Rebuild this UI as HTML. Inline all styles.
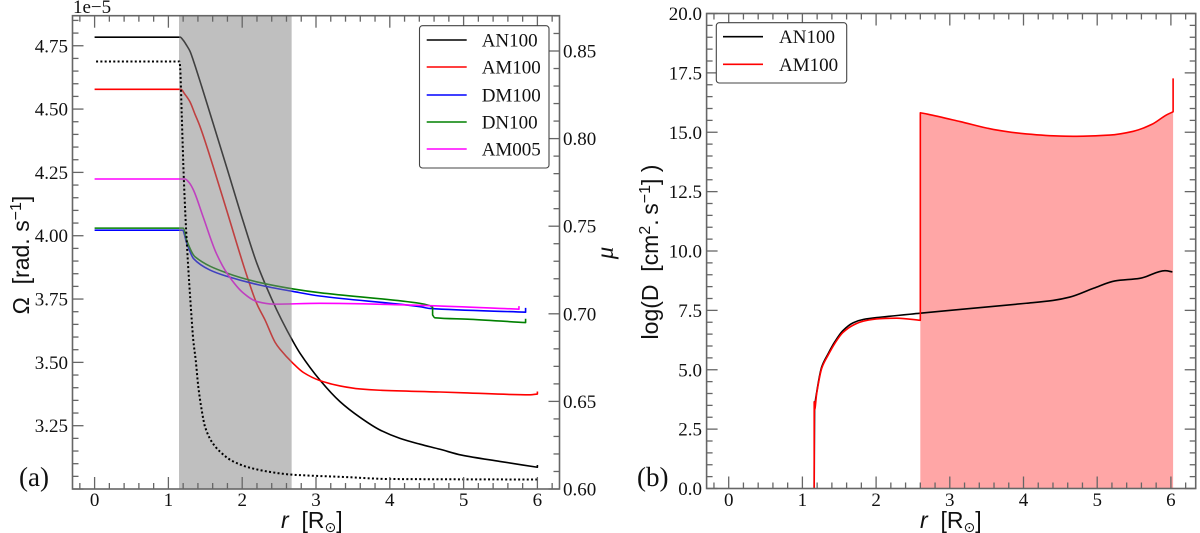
<!DOCTYPE html>
<html lang="en">
<head>
<meta charset="utf-8">
<title>Rotation profile and diffusion coefficient</title>
<style>
html,body{margin:0;padding:0;background:#fff;}
svg{display:block;}
.tk{font-family:"Liberation Serif",serif;font-size:19px;fill:#111;}
.lb{font-family:"Liberation Sans","DejaVu Sans",sans-serif;font-size:23px;fill:#111;}
</style>
</head>
<body>
<svg id="chart" width="1200" height="533" viewBox="0 0 1200 533" xmlns="http://www.w3.org/2000/svg"></svg>
<script>
// ---- Panel (a) data ----
const rAN100 = [0, 1.16, 1.2, 1.25, 1.29, 1.34, 1.45, 1.564, 1.79, 2.015, 2.2, 2.4, 2.535, 2.69, 2.784, 3.054, 3.325, 3.596, 3.867, 4.138, 4.41, 4.68, 4.97, 5.49, 6.0, 6.0];
const omegaAN100 = [4.784, 4.784, 4.772, 4.75, 4.73, 4.69, 4.59, 4.483, 4.27, 4.055, 3.89, 3.75, 3.667, 3.582, 3.536, 3.43, 3.345, 3.283, 3.233, 3.20, 3.177, 3.157, 3.134, 3.109, 3.086, 3.095];
const rAM100 = [0, 1.17, 1.22, 1.29, 1.36, 1.43, 1.61, 1.79, 2.06, 2.2, 2.31, 2.444, 2.51, 2.69, 2.83, 3.054, 3.325, 3.596, 3.867, 4.68, 5.0, 5.9, 6.0, 6.0];
const omegaAM100 = [4.578, 4.578, 4.56, 4.53, 4.48, 4.43, 4.27, 4.10, 3.845, 3.73, 3.667, 3.58, 3.553, 3.496, 3.46, 3.428, 3.407, 3.395, 3.39, 3.383, 3.38, 3.372, 3.375, 3.385];
const rDM100 = [0, 1.19, 1.25, 1.34, 1.56, 1.79, 2.24, 2.69, 3.05, 4.41, 4.54, 5.84, 5.84];
const omegaDM100 = [4.022, 4.022, 3.97, 3.91, 3.865, 3.84, 3.805, 3.78, 3.762, 3.72, 3.713, 3.698, 3.715];
const rDN100 = [0, 1.2, 1.25, 1.36, 1.79, 2.24, 2.69, 3.05, 4.41, 4.54, 4.58, 4.58, 4.61, 5.09, 5.84, 5.84];
const omegaDN100 = [4.03, 4.03, 3.98, 3.917, 3.853, 3.815, 3.79, 3.775, 3.733, 3.724, 3.718, 3.687, 3.676, 3.67, 3.657, 3.672];
const rAM005 = [0, 1.225, 1.28, 1.34, 1.47, 1.65, 1.81, 2.015, 2.2, 2.42, 3.05, 4.54, 5.75, 5.75];
const omegaAM005 = [4.224, 4.224, 4.21, 4.18, 4.075, 3.93, 3.845, 3.774, 3.74, 3.73, 3.733, 3.724, 3.71, 3.722];
const rMu = [0.02, 1.15, 1.16, 1.18, 1.21, 1.25, 1.316, 1.337, 1.37, 1.405, 1.451, 1.496, 1.587, 1.70, 1.857, 2.083, 2.354, 2.67, 3.41, 4.0, 6.0];
const muAN100 = [0.844, 0.844, 0.84, 0.8146, 0.776, 0.74, 0.6965, 0.685, 0.6736, 0.6584, 0.6451, 0.6356, 0.627, 0.6213, 0.6162, 0.6124, 0.6099, 0.6082, 0.6068, 0.6057, 0.6054];
const spanA = [1.144, 2.67];
const legendA = ["AN100", "AM100", "DM100", "DN100", "AM005"];
const xTicks = [0, 1, 2, 3, 4, 5, 6];
const omegaTicks = [3.25, 3.50, 3.75, 4.00, 4.25, 4.50, 4.75];
const muTicks = [0.60, 0.65, 0.70, 0.75, 0.80, 0.85];

// ---- Panel (b) data ----
const rDiffAM = [1.16, 1.16, 1.165, 1.194, 1.262, 1.35, 1.44, 1.547, 1.69, 1.83, 2.05, 2.28, 2.6, 2.6, 2.7, 3.14, 3.59, 4.04, 4.5, 4.72, 5.17, 5.49, 5.74, 5.94, 6.03, 6.03];
const logDAM = [0, 3.65, 3.3, 4.0, 5.06, 5.62, 6.11, 6.56, 6.88, 7.05, 7.15, 7.17, 7.08, 15.82, 15.76, 15.45, 15.12, 14.93, 14.84, 14.83, 14.88, 15.04, 15.33, 15.73, 15.86, 17.27];
const rDiffAN = [1.16, 1.165, 1.194, 1.262, 1.35, 1.44, 1.547, 1.69, 1.83, 2.05, 2.6, 3.14, 4.04, 4.4, 4.63, 4.95, 5.24, 5.58, 5.92, 6.02];
const logDAN = [0, 3.3, 4.05, 5.12, 5.68, 6.18, 6.64, 6.98, 7.12, 7.21, 7.38, 7.54, 7.8, 7.92, 8.06, 8.43, 8.74, 8.85, 9.17, 9.12];
const legendB = ["AN100", "AM100"];
const logDTicks = [0.0, 2.5, 5.0, 7.5, 10.0, 12.5, 15.0, 17.5, 20.0];

// ---- Axis functions ----
const ax = {l:72.5, r:559.5, t:15.7, b:489};
const bx = {l:706.6, r:1195.7, t:13.5, b:488.5};
const xA = v => 94.6 + v * 73.8;
const yOmega = v => 425.7 - (v - 3.25) * 253.3;
const yMu = v => 489 - (v - 0.60) * 1752;
const xB = v => 728.7 + v * 73.7;
const yD = v => 488.5 - v * 23.75;

const NS = "http://www.w3.org/2000/svg";
const svg = document.getElementById("chart");
function make(parent, tag, attrs, txt){
  const n = document.createElementNS(NS, tag);
  for (const k in attrs) n.setAttribute(k, attrs[k]);
  if (txt !== undefined) n.textContent = txt;
  parent.appendChild(n);
  return n;
}
// Shape-preserving curve through the data points; zero-width steps stay straight.
function curve(xs, ys, fx, fy){
  const X = xs.map(fx), Y = ys.map(fy), n = X.length;
  let d = "M" + X[0].toFixed(2) + " " + Y[0].toFixed(2);
  let s = 0;
  while (s < n - 1){
    let e = s;
    while (e < n - 1 && X[e+1] - X[e] > 0.01) e++;
    if (e === s){
      d += "L" + X[s+1].toFixed(2) + " " + Y[s+1].toFixed(2);
      s++;
      continue;
    }
    const m = [];
    for (let i = s; i < e; i++) m.push((Y[i+1]-Y[i])/(X[i+1]-X[i]));
    const t = [m[0]];
    for (let i = 1; i < m.length; i++){
      t.push(m[i-1]*m[i] <= 0 ? 0 : 2*m[i-1]*m[i]/(m[i-1]+m[i]));
    }
    t.push(m[m.length-1]);
    for (let i = s; i < e; i++){
      const h = (X[i+1]-X[i])/3, a = t[i-s], b = t[i-s+1];
      d += "C" + (X[i]+h).toFixed(2) + " " + (Y[i]+a*h).toFixed(2) + " " + (X[i+1]-h).toFixed(2) + " " + (Y[i+1]-b*h).toFixed(2) + " " + X[i+1].toFixed(2) + " " + Y[i+1].toFixed(2);
    }
    s = e;
  }
  return d;
}
function series(parent, xs, ys, fx, fy, color, name, extra){
  const el = make(parent, "path", Object.assign({d: curve(xs, ys, fx, fy), fill:"none", stroke:color, "stroke-width":1.6, "stroke-linejoin":"round"}, extra || {}));
  
  
  return el;
}
const AXC = "#666";
function tick(parent, x1, y1, x2, y2, name){
  const el = make(parent, "line", {x1, y1, x2, y2, stroke:AXC, "stroke-width":1.3});
  
  
}
function label(parent, x, y, anchor, txt, name){
  const el = make(parent, "text", {x, y, "text-anchor":anchor, class:"tk"}, txt);
  
  
  return el;
}
function frame(parent, b, name){
  const el = make(parent, "rect", {x:b.l, y:b.t, width:b.r-b.l, height:b.b-b.t, fill:"none", stroke:AXC, "stroke-width":1.6});
  
  
}
function xAxis(g, b, fx, minV, maxV){
  for (let i = Math.round(minV*5); i <= Math.round(maxV*5); i++){
    const v = i/5, px = fx(v);
    if (px < b.l || px > b.r) continue;
    const len = i % 5 === 0 ? 12 : 6;
    tick(g, px, b.b, px, b.b-len, "x-tick");
    tick(g, px, b.t, px, b.t+len, "x-tick-top");
  }
  xTicks.forEach(v => {
    label(g, fx(v), 506, "middle", String(v), "x-tick-label");
  });
}
function yAxisTicks(g, fy, lo, hi, step, every, xEdge, dir, name, top, bottom){
  const n = Math.round((hi-lo)/step);
  for (let i = 0; i <= n; i++){
    const py = fy(lo + i*step);
    if (py < top - 0.6 || py > bottom + 0.6) continue;
    tick(g, xEdge, py, xEdge + dir*(i % every === 0 ? 11 : 6), py, name);
  }
}
function legend(parent, x, y, w, h, names, colors, lineX, textX, rows, name){
  const g = make(parent, "g", {});
  
  
  make(g, "rect", {x, y, width:w, height:h, rx:3, fill:"#fff", stroke:"#444", "stroke-width":1.1});
  names.forEach((nm, i) => {
    const ln = make(g, "line", {x1:lineX, x2:lineX+40, y1:rows[i], y2:rows[i], stroke:colors[i], "stroke-width":1.6});
    
    
    const t = make(g, "text", {x:textX, y:rows[i]+6.5, class:"tk"}, nm);
    
    
  });
}

// ---- Panel (a) ----
const gA = make(svg, "g", {});


series(gA, rAN100, omegaAN100, xA, yOmega, "#000", "omega-an100");
series(gA, rAM100, omegaAM100, xA, yOmega, "#f00", "omega-am100");
series(gA, rDM100, omegaDM100, xA, yOmega, "#00f", "omega-dm100");
series(gA, rDN100, omegaDN100, xA, yOmega, "#008000", "omega-dn100");
series(gA, rAM005, omegaAM005, xA, yOmega, "#f0f", "omega-am005");
const span = make(gA, "rect", {x:xA(spanA[0]), y:ax.t, width:xA(spanA[1])-xA(spanA[0]), height:ax.b-ax.t, fill:"#808080", "fill-opacity":0.5});


series(gA, rMu, muAN100, xA, yMu, "#000", "mu-an100", {"stroke-dasharray":"2 2.3", "stroke-width":2});

xAxis(gA, ax, xA, -0.2, 6.2);
yAxisTicks(gA, yOmega, 3.0, 4.85, 0.05, 5, ax.l, 1, "omega-tick", ax.t, ax.b);
yAxisTicks(gA, yMu, 0.60, 0.87, 0.01, 5, ax.r, -1, "mu-tick", ax.t, ax.b);
omegaTicks.forEach(v => {
  label(gA, 68, yOmega(v)+6.5, "end", v.toFixed(2), "omega-tick-label");
});
muTicks.forEach(v => {
  label(gA, 563, yMu(v)+6.5, "start", v.toFixed(2), "mu-tick-label");
});
frame(gA, ax, "panel-a-frame");
legend(gA, 419.5, 25.7, 129.5, 142.3, legendA, ["#000","#f00","#00f","#008000","#f0f"], 426.7, 481.7, [40,67,95,122,149], "legend-a");
label(gA, 73, 13, "start", "1e\u22125", "offset-label");
const tagA = label(gA, 19, 486, "start", "(a)", "panel-a-tag");
tagA.setAttribute("style", "font-size:27px");
const muT = make(gA, "text", {transform:"translate(613,253) rotate(-90)", "text-anchor":"middle", class:"tk", style:"font-style:italic;font-size:25px"}, "\u03BC");


const omT = make(gA, "text", {transform:"translate(29,255) rotate(-90)", "text-anchor":"middle", class:"lb"});


omT.innerHTML = '\u03A9\u00A0 [rad.\u2009\u200As<tspan dy="-8" font-size="16">\u22121</tspan><tspan dy="8">]</tspan>';
const xTa = make(gA, "text", {x:281, y:528, class:"lb"});


xTa.innerHTML = '<tspan font-style="italic">r</tspan>\u00A0 [R<tspan dy="4" font-size="14" font-family="DejaVu Sans">\u2299</tspan><tspan dy="-4">]</tspan>';

// ---- Panel (b) ----
const gB = make(svg, "g", {});


const fillStart = rDiffAM.lastIndexOf(2.6);
const fillEnd = rDiffAM.length - 1;
const fillXs = rDiffAM.slice(fillStart, fillEnd);
const fillYs = logDAM.slice(fillStart, fillEnd);
const areaPath = curve(fillXs, fillYs, xB, yD) + "L" + xB(fillXs[fillXs.length-1]).toFixed(2) + " " + yD(0).toFixed(2) + "L" + xB(fillXs[0]).toFixed(2) + " " + yD(0).toFixed(2) + "Z";
const area = make(gB, "path", {d: areaPath, fill:"#ff0000", "fill-opacity":0.35});


series(gB, rDiffAN, logDAN, xB, yD, "#000", "logd-an100");
series(gB, rDiffAM, logDAM, xB, yD, "#f00", "logd-am100");

xAxis(gB, bx, xB, -0.2, 6.2);
yAxisTicks(gB, yD, 0, 20, 0.5, 5, bx.l, 1, "logd-tick", bx.t, bx.b);
yAxisTicks(gB, yD, 0, 20, 0.5, 5, bx.r, -1, "logd-tick-right", bx.t, bx.b);
logDTicks.forEach(v => {
  label(gB, 702, yD(v)+6.5, "end", v.toFixed(1), "logd-tick-label");
});
frame(gB, bx, "panel-b-frame");
legend(gB, 716.3, 22.7, 130.4, 60.3, legendB, ["#000","#f00"], 723, 779, [36.7,64.3], "legend-b");
const tagB = label(gB, 637, 486, "start", "(b)", "panel-b-tag");
tagB.setAttribute("style", "font-size:27px");
const dT = make(gB, "text", {transform:"translate(658,252) rotate(-90)", "text-anchor":"middle", class:"lb"});


dT.innerHTML = 'log(D\u00A0 [cm<tspan dy="-8" font-size="16">2</tspan><tspan dy="8">.\u2009s</tspan><tspan dy="-8" font-size="16">\u22121</tspan><tspan dy="8">]\u00A0)</tspan>';
const xTb = make(gB, "text", {x:920, y:528, class:"lb"});


xTb.innerHTML = '<tspan font-style="italic">r</tspan>\u00A0 [R<tspan dy="4" font-size="14" font-family="DejaVu Sans">\u2299</tspan><tspan dy="-4">]</tspan>';
</script>
</body>
</html>
